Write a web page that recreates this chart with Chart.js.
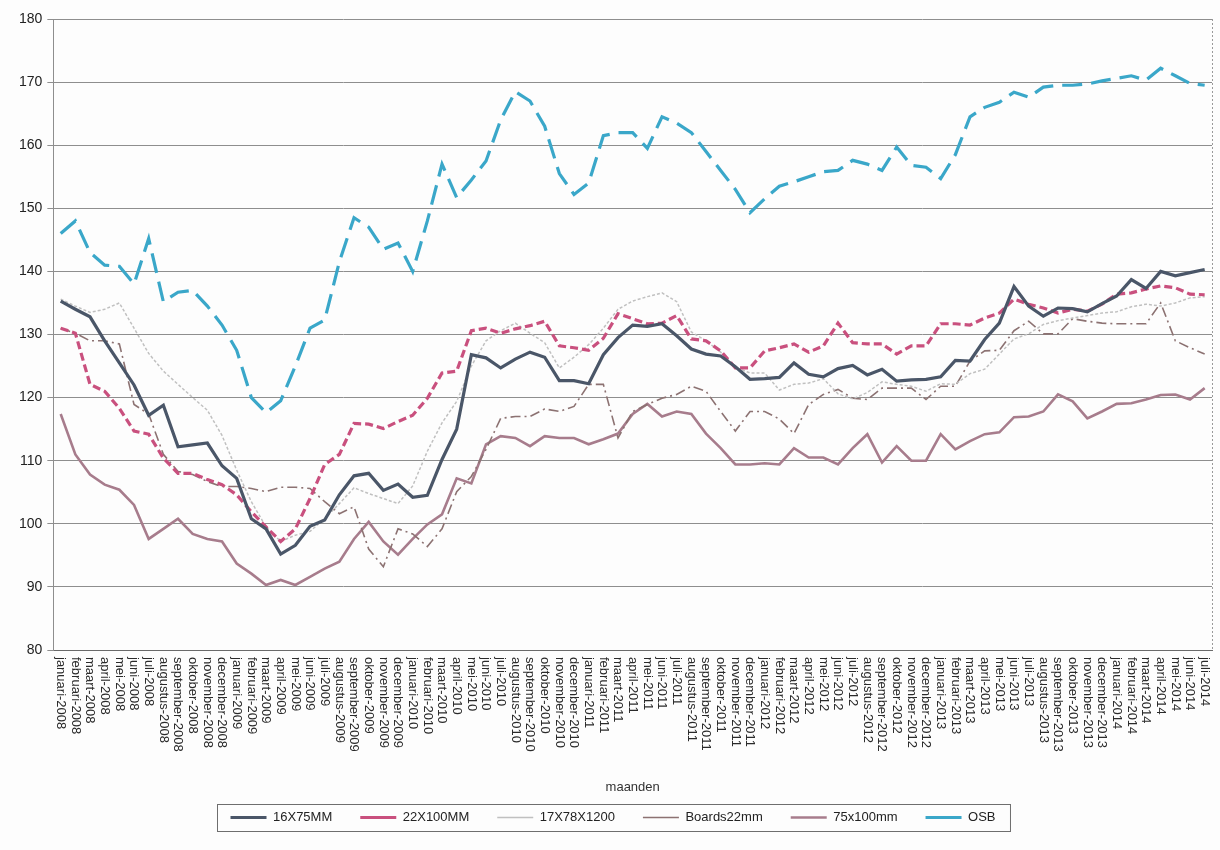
<!DOCTYPE html>
<html>
<head>
<meta charset="utf-8">
<script src="https://cdn.jsdelivr.net/npm/chart.js@4.4.1/dist/chart.umd.min.js"></script>
<style>
  html, body { margin: 0; padding: 0; background: #fdfdfd; }
  #wrap { width: 1220px; height: 850px; }
</style>
</head>
<body>
<div id="wrap"><canvas id="chart-prijzen" width="1220" height="850"></canvas></div>
<script>
var maanden = ['januari', 'februari', 'maart', 'april', 'mei', 'juni', 'juli',
    'augustus', 'september', 'oktober', 'november', 'december'];

// januari-2008 .. juli-2014
var labels = [];
for (var jaar = 2008; jaar <= 2014; jaar++) {
    for (var m = 0; m < 12; m++) {
        if (jaar == 2014 && m > 6) break;
        labels.push(maanden[m] + '-' + jaar);
    }
}

var s16x75 = [135.3, 134, 132.8, 129, 125.5, 122, 117.2, 118.8, 112.2, 112.5, 112.8, 109.2,
    107.2, 100.8, 99.2, 95.2, 96.6, 99.6, 100.6, 104.6, 107.6, 108, 105.3, 106.3,
    104.2, 104.5, 110.2, 115, 126.8, 126.3, 124.7, 126.1, 127.2, 126.4, 122.7, 122.7,
    122.2, 126.8, 129.5, 131.5, 131.3, 131.7, 129.8, 127.7, 126.9, 126.6, 124.9, 122.9,
    123, 123.2, 125.5, 123.7, 123.3, 124.6, 125.1, 123.6, 124.5, 122.6, 122.8, 122.9,
    123.3, 125.9, 125.8, 129.2, 131.8, 137.6, 134.5, 132.9, 134.2, 134.1, 133.6, 134.9,
    136.1, 138.7, 137.3, 140, 139.3, 139.8, 140.3];

var s22x100 = [131, 130.2, 122.1, 121, 118.3, 114.7, 114.2, 110.4, 108, 108, 107, 106.2,
    104.6, 101.9, 99.5, 97.2, 99.2, 104, 109.4, 111, 115.9, 115.8, 115.1, 116.2,
    117.2, 119.9, 123.9, 124.2, 130.6, 131, 130.2, 130.9, 131.4, 132.1, 128.2, 127.9,
    127.5, 129.4, 133.3, 132.5, 131.7, 131.8, 133, 129.3, 129, 127.4, 124.7, 124.7,
    127.4, 127.9, 128.5, 127.2, 128.2, 131.8, 128.7, 128.5, 128.5, 126.9, 128.2, 128.2,
    131.7, 131.7, 131.5, 132.6, 133.4, 135.6, 134.8, 134.2, 133.4, 134, 133.7, 134.8,
    136.4, 136.6, 137.2, 137.7, 137.4, 136.4, 136.3];

var s17x78 = [135.6, 134.5, 133.5, 134, 135, 131, 127, 124.2, 122.1, 120, 118, 114,
    108.5, 103.5, 99.5, 97.2, 98.2, 98.8, 100.8, 103.2, 105.7, 104.8, 104, 103.2,
    106, 111.5, 116, 119.4, 125, 129, 130.6, 131.8, 130.2, 128.7, 124.7, 126.4,
    128.4, 131, 134, 135.3, 136, 136.6, 135.2, 130.4, 129, 127.2, 124.8, 123.9,
    123.9, 121.2, 122.1, 122.3, 123, 120.6, 119.8, 120.8, 122.5, 122.1, 121.8, 121,
    122.2, 122.1, 123.8, 124.5, 126.9, 129.3, 130.1, 131.6, 132.2, 132.6, 133, 133.4,
    133.6, 134.4, 134.8, 134.5, 135, 135.8, 136];

var sBoards = [131, 130.2, 129, 129, 128.5, 118.9, 117.4, 111, 108.3, 107.8, 106.7, 105.9,
    105.9, 105.6, 105.1, 105.8, 105.8, 105.6, 103.5, 101.6, 102.7, 96, 93.2, 99.2,
    98.4, 96.4, 99.2, 105.1, 107.5, 111.8, 116.7, 117, 117, 118.2, 117.8, 118.6,
    122.1, 122.1, 113.6, 117.8, 118.9, 119.9, 120.5, 121.8, 121, 117.8, 114.7, 117.8,
    117.8, 116.6, 114.3, 118.9, 120.5, 121.3, 119.9, 119.7, 121.5, 121.5, 121.5, 119.7,
    121.8, 121.8, 125.8, 127.4, 127.5, 130.6, 132.1, 130.1, 130.1, 132.5, 132.1, 131.8,
    131.7, 131.7, 131.7, 135, 129, 127.9, 126.9];

var s75x100 = [117.4, 111, 107.8, 106.2, 105.4, 103, 97.6, 99.2, 100.8, 98.4, 97.6, 97.2,
    93.7, 92.1, 90.3, 91.1, 90.3, 91.6, 92.9, 94, 97.6, 100.3, 97.2, 95.1,
    97.6, 99.9, 101.5, 107.2, 106.4, 112.6, 113.9, 113.6, 112.3, 113.9, 113.6, 113.6,
    112.6, 113.4, 114.3, 117.4, 119, 117, 117.8, 117.4, 114.3, 112, 109.4, 109.4,
    109.6, 109.4, 112, 110.5, 110.5, 109.4, 112, 114.2, 109.7, 112.3, 110, 110,
    114.2, 111.8, 113.1, 114.2, 114.5, 116.9, 117, 117.8, 120.5, 119.4, 116.7, 117.8,
    119, 119.1, 119.7, 120.4, 120.5, 119.7, 121.5];

var sOSB = [146, 148, 143, 141, 140.8, 138, 145.2, 135.2, 136.7, 137, 134.5, 131.5,
    127.5, 120, 117.6, 119.5, 125, 131, 132.3, 141.5, 148.5, 147, 143.5, 144.5,
    140, 148, 157, 151.7, 154.5, 157.5, 164, 168.5, 167, 163, 155.5, 152.2,
    154, 161.5, 162, 162, 159.5, 164.5, 163.5, 162, 159, 156, 153, 149.3,
    151.5, 153.5, 154.2, 155, 155.8, 156, 157.6, 157, 156, 159.7, 156.8, 156.5,
    154.7, 158.5, 164.5, 166, 166.8, 168.4, 167.6, 169.2, 169.5, 169.5, 169.7, 170.2,
    170.6, 171, 170.3, 172.2, 171, 169.8, 169.5];

var yTicks = [80, 90, 100, 110, 120, 130, 140, 150, 160, 170, 180];
var fontFam = '"Liberation Sans", Arial, sans-serif';

// x labels run top-down from the axis, like the original; plus axis title, borders
var extras = {
    id: 'extras',
    afterDraw: function(chart) {
        var ctx = chart.ctx;
        var xs = chart.scales.x;
        var area = chart.chartArea;
        ctx.save();
        ctx.font = '13px ' + fontFam;
        ctx.fillStyle = '#2a2a2a';
        ctx.textAlign = 'left';
        ctx.textBaseline = 'middle';
        for (var i = 0; i < labels.length; i++) {
            ctx.save();
            ctx.translate(xs.getPixelForValue(i), area.bottom + 7);
            ctx.rotate(Math.PI / 2);
            ctx.fillText(labels[i], 0, 0);
            ctx.restore();
        }
        ctx.textAlign = 'center';
        ctx.fillStyle = '#333';
        ctx.fillText('maanden', (area.left + area.right) / 2, area.bottom + 137);

        // dotted right border of the plot
        ctx.strokeStyle = '#9a9a9a';
        ctx.lineWidth = 1;
        ctx.setLineDash([2, 2]);
        ctx.beginPath();
        ctx.moveTo(area.right + 0.5, area.top);
        ctx.lineTo(area.right + 0.5, area.bottom);
        ctx.stroke();
        ctx.setLineDash([]);

        // box round the legend
        var boxes = chart.legend.legendHitBoxes;
        if (boxes && boxes.length) {
            var l = boxes[0].left, r = 0, t = boxes[0].top, b = 0;
            boxes.forEach(function(h) {
                l = Math.min(l, h.left); r = Math.max(r, h.left + h.width);
                t = Math.min(t, h.top); b = Math.max(b, h.top + h.height);
            });
            ctx.strokeStyle = '#6e6e6e';
            ctx.strokeRect(Math.round(l - 14) + 0.5, Math.round(t - 7) + 0.5, r - l + 28, b - t + 14);
        }
        ctx.restore();
    }
};

var config = {
    type: 'line',
    data: {
        labels: labels,
        datasets: [{
            label: '16X75MM',
            data: s16x75,
            borderColor: '#4a5668',
            borderWidth: 3.2,
            pointRadius: 0
        }, {
            label: '22X100MM',
            data: s22x100,
            borderColor: '#c9507e',
            borderWidth: 3.2,
            borderDash: [8, 4],
            pointRadius: 0
        }, {
            label: '17X78X1200',
            data: s17x78,
            borderColor: '#c0c0c0',
            borderWidth: 1.5,
            borderDash: [3, 2],
            pointRadius: 0
        }, {
            label: 'Boards22mm',
            data: sBoards,
            borderColor: '#8c7272',
            borderWidth: 1.6,
            borderDash: [10, 4, 2, 4],
            pointRadius: 0
        }, {
            label: '75x100mm',
            data: s75x100,
            borderColor: '#a77c8c',
            borderWidth: 2.6,
            pointRadius: 0
        }, {
            label: 'OSB',
            data: sOSB,
            borderColor: '#3aa7c9',
            borderWidth: 3.2,
            borderDash: [20, 9],
            pointRadius: 0
        }]
    },
    options: {
        responsive: false,
        animation: false,
        layout: {
            padding: { left: 14, right: 8, top: 19, bottom: 16 }
        },
        plugins: {
            legend: {
                position: 'bottom',
                labels: {
                    color: '#222',
                    font: { size: 13, family: fontFam },
                    usePointStyle: true,
                    pointStyle: 'line',
                    pointStyleWidth: 36,
                    padding: 28
                }
            },
            tooltip: { enabled: false }
        },
        scales: {
            x: {
                offset: true,
                grid: { display: false, drawTicks: true, tickLength: 6 },
                border: { color: '#6a6a6a', width: 1 },
                ticks: { display: false },
                afterFit: function(axis) { axis.height = 133; }
            },
            y: {
                min: 80,
                max: 180,
                afterBuildTicks: function(axis) {
                    axis.ticks = yTicks.map(function(v) { return { value: v }; });
                },
                grid: { color: '#8e8e8e', lineWidth: 1, tickLength: 6 },
                border: { color: '#8e8e8e', width: 1 },
                ticks: {
                    color: '#222',
                    font: { size: 14, family: fontFam },
                    padding: 5
                }
            }
        }
    },
    plugins: [extras]
};

var ctx = document.getElementById('chart-prijzen').getContext('2d');
new Chart(ctx, config);
</script>
</body>
</html>
